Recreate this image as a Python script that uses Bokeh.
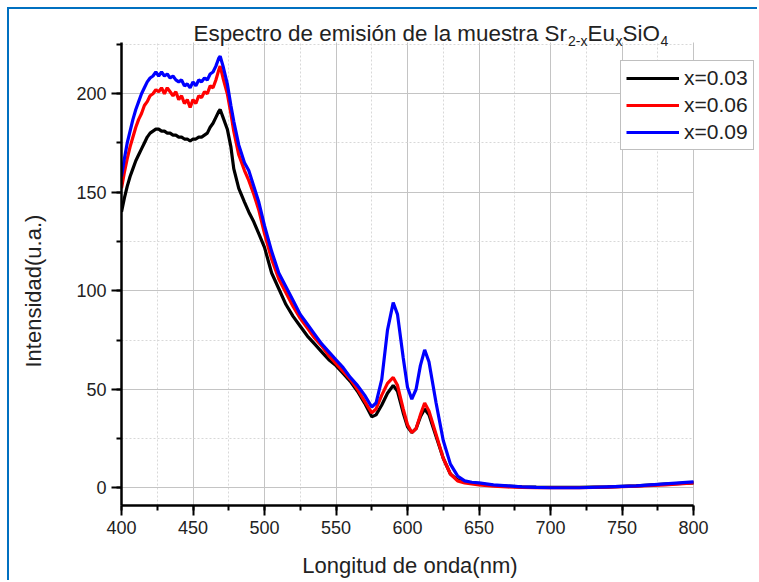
from bokeh.plotting import figure
from bokeh.models import Label, SingleIntervalTicker, Range1d
from bokeh.embed import file_html
from bokeh.resources import INLINE

# Wavelength (nm)
wavelength = [400, 402, 404, 406, 408, 410, 412, 414, 416, 418, 420, 422, 424, 426, 428, 430, 432,
              434, 436, 438, 440, 442, 444, 446, 448, 450, 452, 454, 456, 458, 460, 462, 464, 466,
              468, 469, 471, 474, 476.5, 478.5, 482, 486, 489, 492.5, 496, 500, 505, 510, 515, 520,
              525, 530, 535, 540, 545, 550, 555, 560, 565, 570, 575, 578, 582, 586, 590, 593, 597,
              600, 603, 606, 609, 612, 615, 620, 625, 630, 635, 640, 645, 650, 660, 670, 680, 690,
              700, 720, 740, 760, 780, 800]

# Intensity (u.a.) for each sample
int_x003 = [140, 147, 153, 158, 162, 166, 169, 172, 175, 178, 180, 181, 182, 182, 181, 181, 180,
            180, 179, 179, 178, 178, 177, 177, 176, 177, 177, 178, 178, 179, 180, 183, 185, 188,
            191, 192, 188, 182, 173, 162, 152, 145, 140, 135, 129, 122, 109, 101, 93, 87,
            82, 77, 73, 69, 65, 62, 58, 54, 49, 43, 36, 37, 42, 48, 52, 49, 38,
            31, 28, 30, 36, 40, 37, 26, 15, 7, 4, 3, 2.5, 2, 1.2, 0.8, 0.5, 0.3,
            0.2, 0.2, 0.5, 1, 1.8, 2.5]

int_x006 = [152, 160, 167, 173, 178, 183, 187, 190, 194, 196, 199, 200, 202, 201, 203, 200, 203,
            201, 199, 201, 197, 199, 195, 197, 193, 197, 195, 199, 198, 201, 200, 204, 203, 207,
            212, 214, 208, 200, 190, 181, 169, 161, 156, 149, 141, 129, 116, 106, 99, 92,
            86, 81, 76, 72, 67, 63, 59, 55, 50, 44, 38, 40, 47, 53, 56, 52, 40,
            32, 28, 30, 37, 43, 39, 27, 15, 7, 3.5, 2.5, 2, 1.5, 0.8, 0.4, 0.2, 0,
            0, 0, 0.3, 0.8, 1.5, 2.5]

int_x009 = [158, 167, 175, 181, 187, 192, 196, 200, 203, 206, 208, 209, 211, 209, 211, 209, 210,
            208, 209, 207, 206, 207, 204, 205, 203, 206, 204, 207, 206, 208, 207, 210, 211, 214,
            218, 219, 214, 205, 194, 186, 174, 165, 161, 153, 145, 133, 120, 109, 102, 95,
            88, 83, 78, 73, 69, 65, 61, 56, 52, 47, 41, 43, 55, 80, 94, 88, 66,
            51, 45, 50, 62, 70, 64, 43, 24, 12, 6, 3.5, 2.8, 2.5, 1.5, 1, 0.5, 0.2,
            0, 0, 0.5, 1, 2, 3]

series_labels = ["x=0.03", "x=0.06", "x=0.09"]
series_colors = ["#000000", "#ff0000", "#0000ff"]
series_values = [int_x003, int_x006, int_x009]

x_label = "Longitud de onda(nm)"
y_label = "Intensidad(u.a.)"

x_ticks_bounds = (400, 800)
y_ticks_bounds = (-9, 226)

FONT = "Liberation Sans"
NBSP = "\u00a0"

# The frame reaches the right and top edges of the canvas so that the legend and
# the title (which sit partly outside the axes area) are not clipped; the axes and
# grids are bounded to the data area.
p = figure(width=750, height=573, output_backend="svg", toolbar_location=None, title=None,
           x_range=Range1d(400, 846.15), y_range=Range1d(-9, 242.75),
           min_border_left=112, min_border_right=0, min_border_top=0, min_border_bottom=77)
p.margin = (7, 0, 0, 7)
p.styles = {"border-top": "2px solid #0070C0", "border-left": "2px solid #0070C0"}
p.outline_line_color = None
p.background_fill_color = "white"
p.border_fill_color = "white"

for vals, lab, col in zip(series_values, series_labels, series_colors):
    p.line(wavelength, vals, line_color=col, line_width=3.2, legend_label=lab)

p.xaxis.ticker = SingleIntervalTicker(interval=50, num_minor_ticks=2)
p.yaxis.ticker = SingleIntervalTicker(interval=50, num_minor_ticks=2)
p.xaxis.bounds = x_ticks_bounds
p.yaxis.bounds = y_ticks_bounds

# Axis titles: trailing no-break spaces centre the visible text on the data span
p.xaxis.axis_label = x_label + NBSP * 10
p.yaxis.axis_label = y_label + NBSP * 11

for ax in (p.xaxis[0], p.yaxis[0]):
    ax.axis_line_width = 2.5
    ax.axis_line_color = "black"
    ax.major_tick_line_width = 2
    ax.minor_tick_line_width = 2
    ax.major_tick_line_color = "black"
    ax.minor_tick_line_color = "black"
    ax.major_tick_out = 10
    ax.major_tick_in = 0
    ax.minor_tick_out = 5
    ax.minor_tick_in = 0
    ax.major_label_text_font = FONT
    ax.major_label_text_font_size = "18px"
    ax.major_label_text_color = "#222222"
    ax.major_label_standoff = 5
    ax.axis_label_text_font = FONT
    ax.axis_label_text_font_size = "22px"
    ax.axis_label_text_font_style = "normal"
    ax.axis_label_text_color = "#222222"
p.xaxis.axis_label_standoff = 16
p.yaxis.axis_label_standoff = 27

for g in (p.xgrid[0], p.ygrid[0]):
    g.grid_line_color = "#c4c4c4"
    g.grid_line_width = 1
    g.minor_grid_line_color = "#d8d8d8"
    g.minor_grid_line_dash = "2 2"
    g.minor_grid_line_width = 1
p.xgrid.bounds = x_ticks_bounds
p.xgrid.cross_bounds = y_ticks_bounds
p.ygrid.bounds = y_ticks_bounds
p.ygrid.cross_bounds = x_ticks_bounds

lg = p.legend[0]
lg.location = (499, 355)
lg.margin = 0
lg.padding = 5
lg.spacing = 3
lg.glyph_width = 53
lg.glyph_height = 24
lg.label_height = 24
lg.label_standoff = 5
lg.label_text_font = FONT
lg.label_text_font_size = "21px"
lg.label_text_color = "#222222"
lg.border_line_color = "#7f7f7f"
lg.border_line_width = 1
lg.background_fill_alpha = 1.0

# Chart title with subscripts (screen units relative to the plot frame's bottom-left)
title_parts = [
    ("Espectro de emisión de la muestra Sr", 72, 472, "22.4px"),
    ("2-x", 446.5, 465, "14px"),
    ("Eu", 466, 472, "22.4px"),
    ("x", 494, 465, "14px"),
    ("SiO", 501, 472, "22.4px"),
    ("4", 539, 465, "14px"),
]
for txt, tx, ty, fs in title_parts:
    p.add_layout(Label(x=tx, y=ty, x_units="screen", y_units="screen", text=txt,
                       text_font=FONT, text_font_size=fs, text_color="#222222",
                       text_baseline="alphabetic", text_align="left"))

open("out.html", "w").write(file_html(p, INLINE))
